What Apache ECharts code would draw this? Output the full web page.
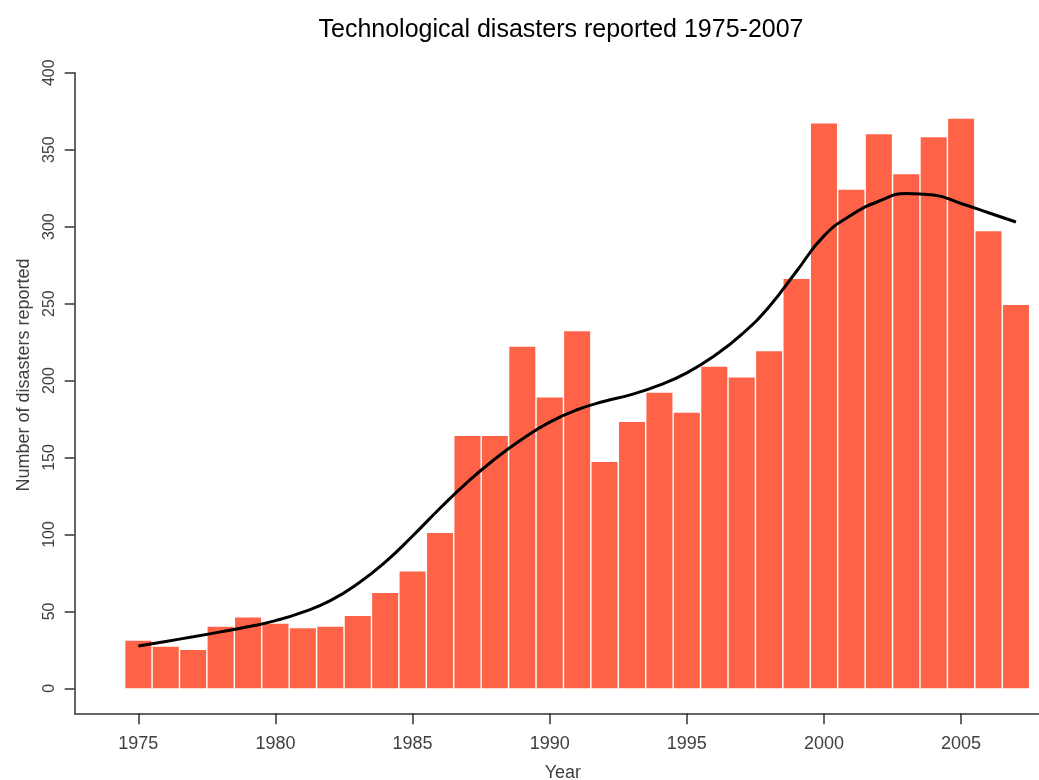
<!DOCTYPE html>
<html>
<head>
<meta charset="utf-8">
<title>Technological disasters reported 1975-2007</title>
<script src="https://cdn.jsdelivr.net/npm/echarts@6/dist/echarts.min.js"></script>
<style>
    html, body { margin: 0; padding: 0; background: #fff; }
    #chart { width: 1039px; height: 780px; }
</style>
</head>
<body>
<div id="chart"></div>
<script>
// yearly counts (bars)
const years = [1975, 1976, 1977, 1978, 1979, 1980, 1981, 1982, 1983, 1984, 1985,
    1986, 1987, 1988, 1989, 1990, 1991, 1992, 1993, 1994, 1995, 1996,
    1997, 1998, 1999, 2000, 2001, 2002, 2003, 2004, 2005, 2006, 2007]
const disasters = [31, 27, 25, 40, 46, 42, 39, 40, 47, 62, 76,
    101, 164, 164, 222, 189, 232, 147, 173, 192, 179, 209,
    202, 219, 266, 367, 324, 360, 334, 358, 370, 297, 249]
// smoothed trend (black curve)
const trend = [27.5, 30.5, 33.5, 36.7, 40, 44, 49.5, 57, 68, 82, 99,
    117, 134, 149, 162, 173, 181, 186.5, 191, 197, 205, 216,
    230, 248, 271, 294, 307.5, 316.5, 321.5, 320.5, 315, 309, 303]
// tick labels
const xTicks = [1975, 1980, 1985, 1990, 1995, 2000, 2005]
const yTicks = [0, 50, 100, 150, 200, 250, 300, 350, 400]

const chart = echarts.init(document.getElementById('chart'))
const font = 'Liberation Sans, Arial, sans-serif'
const option = {
    backgroundColor: '#fff',
    animation: false,
    title: {
        text: 'Technological disasters reported 1975-2007',
        left: 556,
        top: 13,
        textAlign: 'center',
        textStyle: { color: '#000', fontSize: 25, fontWeight: 'normal', fontFamily: font },
    },
    grid: {
        left: 74.7,
        top: 72.7,
        right: 0,
        bottom: 66.7,
        containLabel: false,
        outerBoundsMode: 'none',
    },
    xAxis: {
        type: 'value',
        min: 1972.68,
        max: 2007.84,
        name: 'Year',
        nameLocation: 'middle',
        nameGap: 51,
        nameTextStyle: { color: '#404040', fontSize: 18, fontFamily: font, padding: [0, 0, 0, 12] },
        axisLine: { show: true, onZero: false, lineStyle: { color: '#333', width: 1.5 } },
        axisTick: { show: true, length: 11, customValues: xTicks, lineStyle: { color: '#333', width: 1.5 } },
        axisLabel: {
            customValues: xTicks,
            margin: 22,
            color: '#404040',
            fontSize: 18,
            fontFamily: font,
            formatter: (v) => String(v),
        },
        splitLine: { show: false },
    },
    yAxis: {
        type: 'value',
        min: -16.2,
        max: 400,
        name: 'Number of disasters reported',
        nameLocation: 'middle',
        nameRotate: 90,
        nameGap: 42,
        nameTextStyle: { color: '#404040', fontSize: 18, fontFamily: font, padding: [0, 0, 0, 36] },
        axisLine: { show: true, onZero: false, lineStyle: { color: '#333', width: 1.5 } },
        axisTick: { show: true, length: 10, customValues: yTicks, lineStyle: { color: '#333', width: 1.5 } },
        axisLabel: { customValues: yTicks, rotate: 90, margin: 17, color: '#404040', fontSize: 16, fontFamily: font },
        splitLine: { show: false },
    },
    series: [
        {
            name: 'Disasters',
            type: 'bar',
            barWidth: 26,
            itemStyle: { color: '#FF6347' },
            data: years.map((y, i) => [y, disasters[i]]),
        },
        {
            name: 'Trend',
            type: 'line',
            smooth: true,
            symbol: 'none',
            z: 5,
            lineStyle: { color: '#000', width: 3 },
            data: years.map((y, i) => [y, trend[i]]),
        },
    ],
}
chart.setOption(option)
</script>
</body>
</html>
